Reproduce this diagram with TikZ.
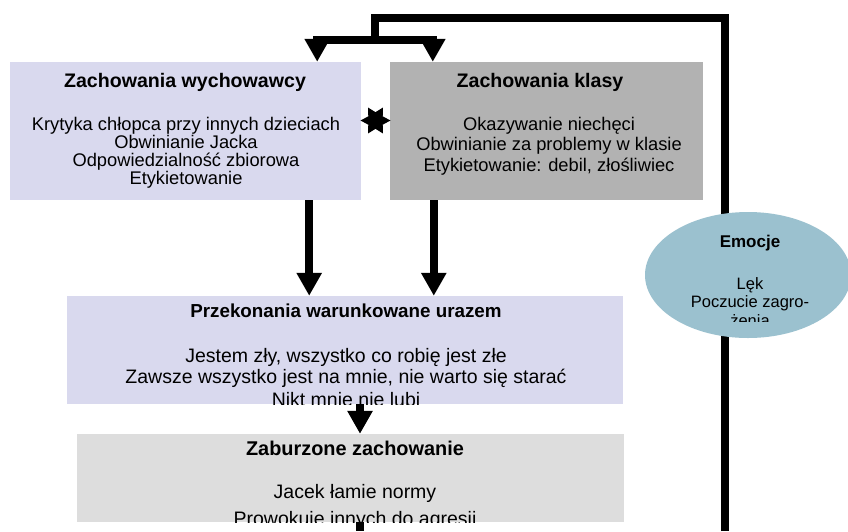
\documentclass[tikz,border=0pt]{standalone}
\usepackage{fontspec}
\setmainfont{Liberation Sans}
\usetikzlibrary{arrows.meta,shapes.geometric,calc}
\definecolor{lav}{RGB}{217,217,238}
\definecolor{midgray}{RGB}{178,178,178}
\definecolor{lightgray2}{RGB}{221,221,221}
\definecolor{emo}{RGB}{155,193,207}
\tikzset{
  boxshape/.style={rectangle, draw=none, inner sep=0pt, text width=0pt, font=\tiny},
  conn/.style={line width=7.5pt, line join=miter, line cap=butt},
  arr/.style={conn, -{Triangle[width=24pt,length=23pt]}},
  ttl/.style={anchor=base, inner sep=0pt, font=\bfseries\fontsize{19.6}{19}\selectfont},
  bodytxt/.style={anchor=base, inner sep=0pt, font=\fontsize{18.3}{18}\selectfont},
  bigtxt/.style={anchor=base, inner sep=0pt, font=\fontsize{19.5}{19}\selectfont},
  emotxt/.style={anchor=base, inner sep=0pt, font=\fontsize{16.5}{16}\selectfont},
}
\begin{document}
\begin{tikzpicture}[x=1pt,y=-1pt]
\useasboundingbox[fill=white] (0,0) rectangle (848,531);

% boxes
\node[boxshape, fill=lav, minimum width=351pt, minimum height=138pt] (w) at (185.5,131) {};
\node[boxshape, fill=midgray, minimum width=313pt, minimum height=138pt] (k) at (546.5,131) {};
\node[boxshape, fill=lav, minimum width=556pt, minimum height=108pt] (p) at (345,350) {};
\node[boxshape, fill=lightgray2, minimum width=547pt, minimum height=88pt] (z) at (350.5,478) {};

% texts, clipped to their boxes
\begin{scope}
\clip (w.south west) rectangle (w.north east);
\node[ttl] (w0) at (185,87) {Zachowania wychowawcy};
\node[bodytxt] (w1) at (186,130.5) {Krytyka chłopca przy innych dzieciach};
\node[bodytxt] (w2) at (186,148.5) {Obwinianie Jacka};
\node[bodytxt] (w3) at (186,166.5) {Odpowiedzialność zbiorowa};
\node[bodytxt] (w4) at (186,184.5) {Etykietowanie};
\end{scope}
\begin{scope}
\clip (k.south west) rectangle (k.north east);
\node[ttl] (k0) at (540,87) {Zachowania klasy};
\node[bodytxt] (k1) at (549,130.5) {Okazywanie niechęci};
\node[bodytxt] (k2) at (549,150.5) {Obwinianie za problemy w klasie};
\node[bodytxt] (k3) at (549,171) {Etykietowanie: debil, złośliwiec};
\end{scope}
\begin{scope}
\clip (p.south west) rectangle (p.north east);
\node[ttl, font=\bfseries\fontsize{18.8}{18}\selectfont] (p0) at (346,317) {Przekonania warunkowane urazem};
\node[bigtxt] (p1) at (346,362) {Jestem zły, wszystko co robię jest złe};
\node[bigtxt] (p2) at (346,383) {Zawsze wszystko jest na mnie, nie warto się starać};
\node[bigtxt] (p3) at (346,406.5) {Nikt mnie nie lubi};
\end{scope}
\begin{scope}
\clip (z.south west) rectangle (z.north east);
\node[ttl, font=\bfseries\fontsize{19.9}{19}\selectfont] (z0) at (355,455) {Zaburzone zachowanie};
\node[bigtxt] (z1) at (355,498) {Jacek łamie normy};
\node[bigtxt] (z2) at (355,525) {Prowokuje innych do agresji};
\end{scope}

% star between the top boxes
\node[star, star points=6, star point ratio=1.8, shape border rotate=90, fill=black, inner sep=0pt, minimum size=30pt] (st) at (375.5,120.5) {};

% feedback loop
\coordinate (lb) at (725,531);
\coordinate (split) at (375,18);
\coordinate (fork) at (375,40);
\coordinate (wIn) at ([xshift=-44pt]w.north east);
\coordinate (kIn) at ([xshift=43pt]k.north west);
\draw[conn] (lb) |- (split) -- (fork);
\draw[conn] (wIn |- fork) -- (kIn |- fork);
\draw[arr, shorten <=-3.75pt] (wIn |- fork) -- (wIn);
\draw[arr, shorten <=-3.75pt] (kIn |- fork) -- (kIn);

% emotions ellipse (drawn over the loop line)
\node[ellipse, fill=emo, inner sep=0pt, minimum width=206pt, minimum height=126pt] (e) at (748,275) {};
\begin{scope}
\clip (e.center) ellipse [x radius=103pt, y radius=63pt];
\clip (640,200) rectangle (848,321.7);
\node[ttl, font=\bfseries\fontsize{17}{16}\selectfont] (e0) at (750,247.3) {Emocje};
\node[emotxt] (e1) at (750,289) {Lęk};
\node[emotxt] (e2) at (750,307) {Poczucie zagro-};
\node[emotxt] (e3) at (750,326) {żenia};
\end{scope}

% downward arrows
\coordinate (wOut) at ([xshift=-52pt]w.south east);
\coordinate (kOut) at ([xshift=44pt]k.south west);
\coordinate (pOut) at ([xshift=15pt]p.south);
\coordinate (zOut) at ([xshift=9.5pt]z.south);
\coordinate (zEnd) at (360,531);
\draw[arr] (wOut) -- (wOut |- p.north);
\draw[arr] (kOut) -- (kOut |- p.north);
\draw[arr] (pOut) -- (pOut |- z.north);
\draw[conn] (zOut) -- (zEnd);
\end{tikzpicture}
\end{document}
